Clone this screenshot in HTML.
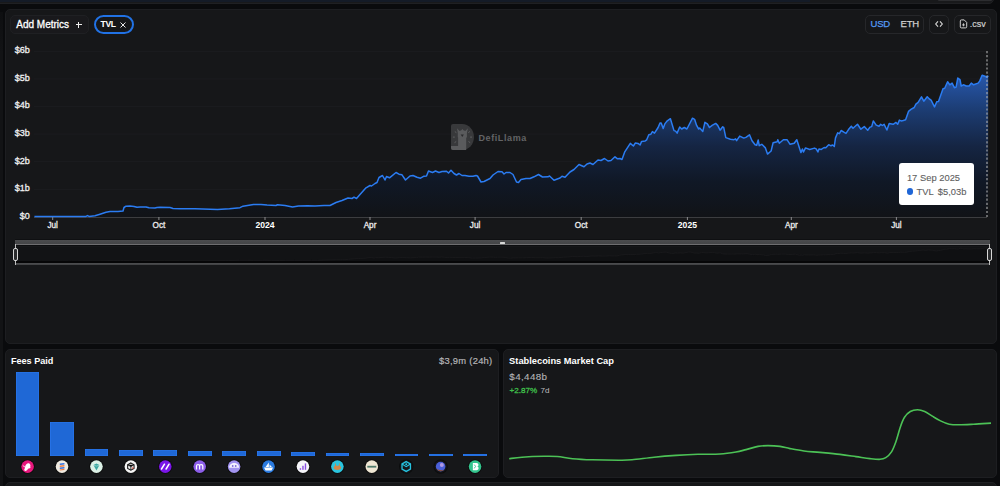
<!DOCTYPE html>
<html><head><meta charset="utf-8"><style>
*{box-sizing:border-box;margin:0;padding:0}
html,body{width:1000px;height:486px;overflow:hidden;background:#0a0b0d;font-family:"Liberation Sans",sans-serif;color:#fff}
.abs{position:absolute}
.card{position:absolute;background:#161719;border:1px solid #1d1e21;border-radius:5px}
.btn{position:absolute;border:1px solid #26272a;border-radius:5px;background:#161719}
.yl{position:absolute;left:0;width:29.8px;text-align:right;font-size:9px;line-height:12px;color:#f0f0f0;-webkit-text-stroke:0.3px #f0f0f0}
.xl{position:absolute;top:219.6px;width:40px;text-align:center;font-size:8.2px;line-height:12px;color:#ececec;-webkit-text-stroke:0.3px #ececec}
.xl.b{font-weight:700;color:#fff;-webkit-text-stroke:0;font-size:8.6px;top:219.0px}
.bar{position:absolute;width:23.8px;background:#1f68d6;box-shadow:inset 0 0 0 0.6px #2a78ee}
.ic{position:absolute;top:460.5px;width:12.6px;height:12.6px;border-radius:50%}
</style></head><body>
<div class="abs" style="left:-5px;top:-10px;width:999px;height:14px;background:#18191b;border:1px solid #1f2023;border-radius:5px"></div>
<div class="abs" style="left:0;top:0;width:810px;height:1.5px;background:#141b27"></div>
<div class="abs" style="left:938px;top:0;width:54px;height:1.2px;background:#2c2d30;border-radius:0 0 2px 2px"></div>
<div class="abs" style="left:0;top:12px;width:3.3px;height:480px;background:linear-gradient(#0e0f11,#121315 40px)"></div>
<div class="abs" style="left:5px;top:481.8px;width:992px;height:20px;background:#161719;border:1px solid #1f2023;border-radius:5px"></div>
<div class="card" style="left:5px;top:9px;width:992px;height:335px"></div>
<div class="abs" style="left:10.2px;top:14.8px;width:78.8px;height:19.1px;background:#19191c;border:1px solid #1f2023;border-radius:5px"></div>
<div class="abs" style="left:16.3px;top:17.5px;font-size:10px;line-height:14px;color:#fff;-webkit-text-stroke:0.3px #fff">Add Metrics</div>
<div class="abs" style="left:75.6px;top:24.2px;width:6.6px;height:1.1px;background:#eee"></div><div class="abs" style="left:78.35px;top:21.5px;width:1.1px;height:6.6px;background:#eee"></div>
<div class="abs" style="left:94px;top:15px;width:40px;height:18.5px;border:2px solid #2172e5;border-radius:10px"></div>
<div class="abs" style="left:100.6px;top:18.5px;font-size:8.6px;font-weight:700;line-height:11px;color:#fff;letter-spacing:-0.4px">TVL</div>
<svg class="abs" style="left:119.6px;top:21.8px" width="6" height="6"><path d="M0.5,0.5 L5.5,5.5 M5.5,0.5 L0.5,5.5" stroke="#e6e6e6" stroke-width="1"/></svg>
<div class="btn" style="left:865px;top:14.5px;width:59px;height:19px"></div>
<div class="abs" style="left:870.5px;top:18.3px;font-size:9.5px;line-height:12px;color:#559af4;-webkit-text-stroke:0.25px #559af4;letter-spacing:-0.2px">USD</div>
<div class="abs" style="left:900.5px;top:18.3px;font-size:9.5px;line-height:12px;color:#d0d0d0;-webkit-text-stroke:0.25px #d0d0d0;letter-spacing:-0.2px">ETH</div>
<div class="btn" style="left:929px;top:14.5px;width:20px;height:19px"></div>
<svg class="abs" style="left:933px;top:19px" width="12" height="10"><path d="M5,2.3 L2.7,5 L5,7.7 M7,2.3 L9.3,5 L7,7.7" fill="none" stroke="#d8d8d8" stroke-width="1.1"/></svg>
<div class="btn" style="left:954px;top:14.5px;width:37px;height:19px"></div>
<svg class="abs" style="left:959px;top:19px" width="10" height="10"><path d="M1.3,2 Q1.3,0.9 2.4,0.9 L5.2,0.9 L7.7,3.4 L7.7,7.8 Q7.7,8.9 6.6,8.9 L2.4,8.9 Q1.3,8.9 1.3,7.8 Z" fill="none" stroke="#cfcfcf" stroke-width="1"/><path d="M4.5,4.3 L4.5,7.3 M3.1,5.9 L5.9,5.9" stroke="#cfcfcf" stroke-width="0.9"/></svg>
<div class="abs" style="left:969.8px;top:18.4px;font-size:9px;line-height:12px;color:#d0d0d0;-webkit-text-stroke:0.2px #d0d0d0">.csv</div>
<div class="yl" style="top:44.2px">$6b</div><div class="yl" style="top:71.8px">$5b</div><div class="yl" style="top:99.4px">$4b</div><div class="yl" style="top:127.0px">$3b</div><div class="yl" style="top:154.6px">$2b</div><div class="yl" style="top:182.2px">$1b</div><div class="yl" style="top:209.8px">$0</div>
<div class="xl" style="left:32.7px">Jul</div><div class="xl" style="left:138.9px">Oct</div><div class="xl b" style="left:245.0px">2024</div><div class="xl" style="left:350.0px">Apr</div><div class="xl" style="left:455.1px">Jul</div><div class="xl" style="left:561.2px">Oct</div><div class="xl b" style="left:667.4px">2025</div><div class="xl" style="left:771.3px">Apr</div><div class="xl" style="left:876.4px">Jul</div>

<div class="abs" style="left:15.4px;top:238.9px;width:974.6px;height:1px;background:#0f1012"></div>
<div class="abs" style="left:15.4px;top:239.9px;width:974.6px;height:3.8px;background:linear-gradient(#4b4c4e,#444547)"></div>
<div class="abs" style="left:15.4px;top:243.7px;width:974.6px;height:1.6px;background:#6e6e70"></div>
<div class="abs" style="left:15.4px;top:245.3px;width:974.6px;height:1.2px;background:#0c0d0f"></div>
<div class="abs" style="left:15.4px;top:246.5px;width:974.6px;height:15px;background:#121315"></div>
<svg class="abs" style="left:0;top:0" width="1000" height="486"><path d="M15.4,261.5 L15.4,261.4 L41.6,261.4 L62.1,261.4 L68.2,261.4 L69.7,261.4 L71.3,261.4 L77.4,261.4 L82.5,261.2 L88.7,261.0 L92.7,261.0 L100.9,261.0 L106.0,260.9 L107.1,260.6 L109.1,260.5 L113.2,260.4 L117.3,260.5 L120.4,260.6 L123.4,260.5 L129.6,260.5 L132.6,260.6 L138.8,260.6 L140.8,260.6 L143.9,260.6 L154.1,260.6 L157.2,260.7 L164.4,260.7 L179.7,260.7 L202.7,260.8 L215.0,260.7 L225.7,260.6 L228.8,260.5 L239.6,260.3 L247.2,260.3 L253.4,260.4 L262.6,260.4 L264.1,260.3 L271.8,260.4 L279.5,260.5 L285.6,260.4 L294.8,260.4 L302.5,260.4 L311.7,260.4 L317.8,260.4 L324.0,260.1 L330.1,259.9 L336.2,259.7 L340.3,259.7 L342.4,259.6 L344.9,259.7 L348.5,259.3 L354.7,258.7 L358.8,258.5 L360.3,258.5 L363.9,258.3 L365.9,258.2 L368.0,257.7 L371.5,257.5 L374.1,258.0 L375.6,257.6 L378.7,257.7 L385.4,257.2 L388.4,257.4 L391.5,257.5 L395.1,258.0 L399.7,257.6 L402.7,257.5 L406.8,257.7 L410.4,257.8 L414.0,257.6 L416.6,257.6 L418.6,257.1 L422.7,257.2 L425.8,257.1 L429.3,257.2 L432.4,257.1 L437.0,257.1 L439.1,257.3 L441.6,257.0 L444.7,257.3 L447.2,257.5 L449.8,257.3 L452.9,257.5 L455.9,257.5 L460.0,257.6 L464.1,257.6 L467.2,257.5 L468.7,257.6 L472.3,258.1 L475.4,258.1 L481.5,257.8 L484.6,257.5 L489.7,257.1 L493.8,257.2 L495.8,257.4 L497.9,257.2 L502.0,257.2 L505.1,257.4 L508.6,258.1 L510.7,258.2 L513.2,257.9 L518.4,257.8 L522.4,257.8 L526.5,257.7 L531.1,257.4 L535.2,257.7 L540.9,257.7 L542.4,257.6 L547.0,258.0 L553.1,257.8 L555.2,257.6 L558.3,257.7 L563.4,257.2 L567.5,257.0 L572.6,256.5 L577.7,256.7 L580.8,256.4 L583.8,256.3 L586.9,256.5 L592.0,256.0 L595.1,256.1 L598.7,255.9 L602.2,256.1 L605.3,256.1 L609.4,255.7 L612.0,255.9 L614.5,255.9 L616.6,256.0 L619.2,255.3 L621.9,254.9 L625.1,254.5 L628.2,254.7 L630.3,254.4 L632.9,254.5 L635.1,254.6 L636.6,254.3 L640.3,254.2 L641.8,254.1 L644.0,253.6 L646.1,253.6 L647.7,253.3 L649.8,253.5 L653.5,252.9 L655.6,252.5 L656.7,252.5 L658.7,253.0 L660.4,252.6 L662.9,252.3 L666.1,252.1 L669.8,253.2 L671.4,253.3 L672.9,253.5 L675.6,252.9 L677.6,253.1 L680.3,252.9 L683.0,253.1 L688.7,252.0 L690.8,252.1 L692.9,252.7 L695.0,253.1 L696.1,253.0 L699.2,253.3 L701.4,252.4 L703.9,252.6 L706.1,252.9 L708.8,252.7 L712.4,252.5 L714.5,252.7 L716.9,253.2 L719.6,252.9 L720.6,252.9 L722.8,253.9 L727.5,254.1 L731.2,254.1 L732.8,254.0 L733.8,254.2 L737.0,253.8 L741.2,253.9 L743.3,253.9 L747.0,253.6 L749.6,254.2 L752.7,254.6 L754.4,254.6 L755.9,254.1 L756.9,254.7 L759.6,254.5 L763.3,254.9 L765.4,255.5 L769.1,255.2 L771.2,254.4 L775.4,254.3 L776.0,254.1 L777.5,254.4 L781.7,254.1 L785.4,254.1 L788.6,254.5 L792.7,254.4 L795.4,254.1 L799.6,255.3 L801.1,255.0 L802.3,255.3 L804.3,254.9 L808.6,255.0 L813.5,254.9 L815.3,255.0 L817.0,255.3 L818.1,255.0 L820.5,255.0 L823.3,254.8 L825.1,254.9 L828.0,254.6 L830.3,254.7 L832.0,254.6 L833.8,254.7 L835.0,253.9 L837.3,253.4 L839.0,253.5 L840.7,253.2 L843.6,253.4 L845.7,253.5 L848.3,253.1 L851.2,252.8 L852.9,253.0 L857.5,252.6 L861.0,253.1 L864.5,252.8 L867.9,253.2 L870.3,252.9 L872.0,252.8 L873.7,252.3 L876.6,252.7 L879.5,252.8 L881.2,252.6 L883.0,252.7 L884.7,252.6 L887.6,253.2 L889.9,252.5 L893.9,252.6 L896.9,252.4 L898.6,252.6 L900.4,252.2 L902.1,252.3 L904.4,252.3 L906.7,252.2 L909.7,251.4 L912.6,251.2 L915.5,251.0 L917.3,250.7 L919.5,250.5 L923.0,250.0 L925.3,250.4 L928.8,250.0 L931.1,250.2 L932.8,250.3 L936.3,251.0 L938.6,250.5 L940.4,250.4 L945.0,249.2 L946.7,249.2 L949.7,248.6 L951.9,248.8 L954.3,248.7 L956.6,249.1 L958.4,249.1 L960.1,248.2 L962.4,248.4 L963.6,249.0 L965.9,248.8 L968.8,249.0 L971.7,249.0 L973.9,248.7 L976.3,248.8 L980.9,248.7 L982.6,248.5 L985.0,247.9 L987.9,248.0 L990.0,248.1 L991.2,248.0 L990,261.5 Z" fill="#0f1012" stroke="#1a1b1d" stroke-width="0.8"/></svg>
<div class="abs" style="left:15.4px;top:261.2px;width:974.6px;height:1.6px;background:#060607"></div>
<div class="abs" style="left:15.4px;top:262.8px;width:974.6px;height:2.2px;background:linear-gradient(#4e4f51,#3e3f41)"></div>
<div class="abs" style="left:499.7px;top:241.5px;width:5.3px;height:2px;background:#d8d8d8;border-radius:0.5px"></div>
<div class="abs" style="left:14.9px;top:244px;width:1px;height:21px;background:#bdbdbd"></div>
<div class="abs" style="left:13.2px;top:248px;width:4.8px;height:13px;border:1px solid #d8d8d8;border-radius:2px;background:#2a2b2d"></div>
<div class="abs" style="left:988.8px;top:244px;width:1px;height:21px;background:#bdbdbd"></div>
<div class="abs" style="left:986.9px;top:248px;width:4.8px;height:13px;border:1px solid #d8d8d8;border-radius:2px;background:#2a2b2d"></div>
<div class="card" style="left:5px;top:349px;width:493.5px;height:128.8px"></div>
<div class="card" style="left:503px;top:349px;width:493.5px;height:128.8px"></div>
<div class="abs" style="left:10.9px;top:355.4px;font-size:9.1px;font-weight:700;line-height:12px;color:#fff">Fees Paid</div>
<div class="abs" style="left:438.9px;top:355.4px;font-size:9.4px;line-height:12px;color:#b4b4b6;-webkit-text-stroke:0.2px #b4b4b6;letter-spacing:0.28px">$3,9m (24h)</div>
<div class="abs" style="left:509.1px;top:355.4px;font-size:9.3px;font-weight:700;line-height:12px;color:#fff">Stablecoins Market Cap</div>
<div class="abs" style="left:509.3px;top:370.4px;font-size:9.8px;line-height:13px;color:#b4b4b6;-webkit-text-stroke:0.12px #b4b4b6;letter-spacing:0.38px">$4,448b</div>
<div class="abs" style="left:509.5px;top:384.5px;font-size:8.1px;line-height:11px;color:#3fbf4a;-webkit-text-stroke:0.3px #3fbf4a">+2.87%</div>
<div class="abs" style="left:540.4px;top:384.5px;font-size:8.1px;line-height:11px;color:#b8b8ba;-webkit-text-stroke:0.05px #b8b8ba">7d</div>
<div class="bar" style="left:15.60px;top:372.3px;height:83.40px"></div><div class="bar" style="left:50.05px;top:422px;height:33.70px"></div><div class="bar" style="left:84.50px;top:449px;height:6.70px"></div><div class="bar" style="left:118.95px;top:449.6px;height:6.10px"></div><div class="bar" style="left:153.40px;top:450.3px;height:5.40px"></div><div class="bar" style="left:187.85px;top:450.5px;height:5.20px"></div><div class="bar" style="left:222.30px;top:451px;height:4.70px"></div><div class="bar" style="left:256.75px;top:451.25px;height:4.45px"></div><div class="bar" style="left:291.20px;top:451.75px;height:3.95px"></div><div class="bar" style="left:325.65px;top:452.75px;height:2.95px"></div><div class="bar" style="left:360.10px;top:452.75px;height:2.95px"></div><div class="bar" style="left:394.55px;top:453.75px;height:1.95px"></div><div class="bar" style="left:429.00px;top:454px;height:1.70px"></div><div class="bar" style="left:463.45px;top:454px;height:1.70px"></div>
<svg class="abs" style="left:0;top:0" width="1000" height="486"><g transform="translate(27.60,466.6)"><circle r="7.2" fill="#0a0a0b" opacity="0.85"/><circle r="6.3" fill="#e6177c"/><path d="M-3.5,3.5 C-2,1 -3,-1 -1,-2.5 C0,-3.8 2,-3.5 2.5,-2 C3.5,-1 2,0 3,1 C2,2.5 0.5,1.5 0,3 C-1,4.5 -2.5,5 -3.5,3.5 Z" fill="#fff"/><path d="M-4.8,-1 L-2.5,0.5" stroke="#fff" stroke-width="0.8"/></g><g transform="translate(62.02,466.6)"><circle r="7.2" fill="#0a0a0b" opacity="0.85"/><circle r="6.3" fill="#efeae0"/><path d="M-2.2,-3 L2.4,-3.6 L2.4,-2.2 L-2.2,-1.6 Z" fill="#2f6fe0"/><path d="M-2.2,-1 L2.4,-1.6 L2.4,-0.2 L-2.2,0.4 Z" fill="#f07d3c"/><path d="M-2.2,1 L2.4,0.4 L2.4,1.8 L-2.2,2.4 Z" fill="#2f6fe0"/><path d="M-2.2,2.8 L2.4,2.2 L2.4,3.4 L-2.2,3.8 Z" fill="#f07d3c"/></g><g transform="translate(96.44,466.6)"><circle r="7.2" fill="#0a0a0b" opacity="0.85"/><circle r="6.3" fill="#dcf1e6"/><path d="M-3,-1.5 L0,-3.2 L3,-1.5 L0,3.8 Z" fill="#3aa7a0"/><path d="M-3,-1.5 L0,-0.5 L3,-1.5" fill="none" stroke="#dcf1e6" stroke-width="0.5"/></g><g transform="translate(130.86,466.6)"><circle r="7.2" fill="#0a0a0b" opacity="0.85"/><circle r="6.3" fill="#f4f4f4"/><path d="M0,-3.6 L3.2,-1.8 L3.2,1.8 L0,3.6 L-3.2,1.8 L-3.2,-1.8 Z" fill="none" stroke="#1a1a1a" stroke-width="1.1"/><path d="M-3.2,-1.8 L0,0 L3.2,-1.8 M0,0 L0,3.6" stroke="#1a1a1a" stroke-width="0.9"/><circle cx="2" cy="1.5" r="0.8" fill="#e03a2a"/></g><g transform="translate(165.28,466.6)"><circle r="7.2" fill="#0a0a0b" opacity="0.85"/><circle r="6.3" fill="#7a15e8"/><path d="M-3.8,2.4 L-0.8,-2.4 M0.8,2.4 L3.8,-2.4" stroke="#fff" stroke-width="1.5" stroke-linecap="round"/></g><g transform="translate(199.70,466.6)"><circle r="7.2" fill="#0a0a0b" opacity="0.85"/><circle r="6.3" fill="#8c5ee8"/><path d="M-3.2,3 L-3.2,-0.5 C-3.2,-2.6 -0.1,-2.6 -0.1,-0.5 L-0.1,3 M-0.1,-0.5 C-0.1,-2.6 3.1,-2.6 3.1,-0.5 L3.1,3" fill="none" stroke="#fff" stroke-width="1.2"/></g><g transform="translate(234.12,466.6)"><circle r="7.2" fill="#0a0a0b" opacity="0.85"/><circle r="6.3" fill="#a294f0"/><path d="M-5,1.2 C-5,-5.2 5,-5.2 5,1.2 Z" fill="#f4f2ff"/><circle cx="-1.4" cy="-0.6" r="0.9" fill="#7a6ad8"/><circle cx="1.6" cy="-0.6" r="0.9" fill="#7a6ad8"/></g><g transform="translate(268.54,466.6)"><circle r="7.2" fill="#0a0a0b" opacity="0.85"/><circle r="6.3" fill="#2a7be0"/><path d="M-4.5,1 L4.5,1 L3,3.8 L-3,3.8 Z M-3,0.4 L0.3,-4 L0.3,0.4 Z M1,-2 L3.4,0.4 L1,0.4 Z" fill="#fff"/></g><g transform="translate(302.96,466.6)"><circle r="7.2" fill="#0a0a0b" opacity="0.85"/><circle r="6.3" fill="#f6f6fa"/><rect x="-3.2" y="1.6" width="1.4" height="1.6" fill="#8a4fe0"/><rect x="-0.7" y="-0.8" width="1.4" height="4" fill="#8a4fe0"/><rect x="1.8" y="-3.2" width="1.4" height="6.4" fill="#8a4fe0"/></g><g transform="translate(337.38,466.6)"><circle r="7.2" fill="#0a0a0b" opacity="0.85"/><circle r="6.3" fill="#2bc5df"/><path d="M-2,-4 L-1.2,-0.8 L1.2,-0.8 L2,-4 L2.6,-0.5 C4.5,0.5 4,3.5 0,3.5 C-4,3.5 -4.5,0.5 -2.6,-0.5 Z" fill="#d1884a"/></g><g transform="translate(371.80,466.6)"><circle r="7.2" fill="#0a0a0b" opacity="0.85"/><circle r="6.3" fill="#efe6d3"/><rect x="-4.5" y="-0.8" width="9" height="1.8" fill="#4f7a6a"/></g><g transform="translate(406.22,466.6)"><circle r="7.2" fill="#0a0a0b" opacity="0.85"/><circle r="6.3" fill="#15181c"/><path d="M0,-5 L4.2,-2.6 L4.2,2.4 L0,4.8 L-4.2,2.4 L-4.2,-2.6 Z" fill="none" stroke="#25c3e0" stroke-width="1.3"/><path d="M-4.2,-2.6 L0,0 L4.2,-2.6" fill="none" stroke="#25c3e0" stroke-width="1.1"/><circle cy="-2.4" r="1" fill="#25c3e0"/></g><g transform="translate(440.64,466.6)"><circle r="7.2" fill="#0a0a0b" opacity="0.85"/><circle r="6.3" fill="#141518"/><circle r="4.8" fill="#4a5fd8"/><circle cx="1.2" cy="-1.6" r="2" fill="#c9a8e8" opacity="0.8"/><path d="M-4.3,2 C-3,4.8 1,5.5 3.5,3.2 C1,4 -2,3.8 -4.3,2 Z" fill="#8a4a2a"/></g><g transform="translate(475.06,466.6)"><circle r="7.2" fill="#0a0a0b" opacity="0.85"/><circle r="6.3" fill="#33c48d"/><path d="M-2.2,-3.6 L1.5,-3.6 C4,-3.6 4,0 1.8,0 C4.2,0 4.2,3.6 1.5,3.6 L-2.2,3.6 Z" fill="#fff"/><path d="M-0.8,-2 L0.5,-0.2 L-0.8,1.8" fill="none" stroke="#33c48d" stroke-width="0.9"/></g></svg>
<svg width="1000" height="486" style="position:absolute;left:0;top:0">
<defs><linearGradient id="g1" x1="0" y1="0" x2="0" y2="1"><stop offset="0" stop-color="#2757ab"/><stop offset="0.25" stop-color="#1c3c72"/><stop offset="0.5" stop-color="#152543"/><stop offset="0.75" stop-color="#101826"/><stop offset="1" stop-color="#111317"/></linearGradient></defs>
<line x1="34" y1="51.3" x2="987" y2="51.3" stroke="#1a1b1e" stroke-width="1.2"/>
<line x1="34" y1="78.9" x2="987" y2="78.9" stroke="#1a1b1e" stroke-width="1.2"/>
<line x1="34" y1="106.5" x2="987" y2="106.5" stroke="#1a1b1e" stroke-width="1.2"/>
<line x1="34" y1="134.1" x2="987" y2="134.1" stroke="#1a1b1e" stroke-width="1.2"/>
<line x1="34" y1="161.7" x2="987" y2="161.7" stroke="#1a1b1e" stroke-width="1.2"/>
<line x1="34" y1="189.3" x2="987" y2="189.3" stroke="#1a1b1e" stroke-width="1.2"/>
<path d="M34.4,216.4 L60.0,216.4 L80.0,216.4 L86.0,216.4 L87.5,215.6 L89.0,216.4 L95.0,215.8 L100.0,214.2 L106.0,212.2 L110.0,211.5 L118.0,211.5 L123.0,211.0 L124.0,207.5 L126.0,206.2 L130.0,206.0 L134.0,206.5 L137.0,207.2 L140.0,207.0 L146.0,207.0 L149.0,207.8 L155.0,208.0 L157.0,207.5 L160.0,207.2 L170.0,207.5 L173.0,208.5 L180.0,208.8 L195.0,208.8 L217.5,209.5 L229.5,208.8 L240.0,207.7 L243.0,206.2 L253.5,204.4 L261.0,204.4 L267.0,205.0 L276.0,205.5 L277.5,204.7 L285.0,205.5 L292.5,207.0 L298.5,206.0 L307.5,205.8 L315.0,206.0 L324.0,205.5 L330.0,205.5 L336.0,202.5 L342.0,200.5 L348.0,198.0 L352.0,198.5 L354.0,197.2 L356.5,198.5 L360.0,194.5 L366.0,187.8 L370.0,185.5 L371.5,186.0 L375.0,183.5 L377.0,182.5 L379.0,177.5 L382.5,175.5 L385.0,180.0 L386.5,176.5 L389.5,177.8 L396.0,172.5 L399.0,174.2 L402.0,174.8 L405.5,180.0 L410.0,176.0 L413.0,175.5 L417.0,177.2 L420.5,178.2 L424.0,176.2 L426.5,176.0 L428.5,171.0 L432.5,172.5 L435.5,171.0 L439.0,172.5 L442.0,171.5 L446.5,171.2 L448.5,173.0 L451.0,170.2 L454.0,173.5 L456.5,175.0 L459.0,173.5 L462.0,175.5 L465.0,175.5 L469.0,176.3 L473.0,176.2 L476.0,175.5 L477.5,176.0 L481.0,182.0 L484.0,181.5 L490.0,178.5 L493.0,175.0 L498.0,171.5 L502.0,171.8 L504.0,174.0 L506.0,172.5 L510.0,172.5 L513.0,174.5 L516.5,182.0 L518.5,182.5 L521.0,179.5 L526.0,178.5 L530.0,178.5 L534.0,176.8 L538.5,174.5 L542.5,177.0 L548.0,176.8 L549.5,176.0 L554.0,180.2 L560.0,178.0 L562.0,176.2 L565.0,177.2 L570.0,172.0 L574.0,169.5 L579.0,164.5 L584.0,166.8 L587.0,164.0 L590.0,163.0 L593.0,164.5 L598.0,160.0 L601.0,160.5 L604.5,158.5 L608.0,161.0 L611.0,160.5 L615.0,156.8 L617.5,158.8 L620.0,158.5 L622.0,159.5 L624.6,152.2 L627.2,148.1 L630.3,143.4 L633.4,146.0 L635.4,142.9 L638.0,143.4 L640.1,145.0 L641.6,141.4 L645.2,140.9 L646.7,139.8 L648.8,134.7 L650.9,134.2 L652.4,131.6 L654.5,133.1 L658.1,127.5 L660.1,122.9 L661.2,122.9 L663.2,128.5 L664.8,123.9 L667.3,120.8 L670.4,118.7 L674.0,130.6 L675.6,131.1 L677.1,133.1 L679.7,127.0 L681.7,129.0 L684.3,127.5 L686.9,129.0 L692.5,118.2 L694.6,119.3 L696.6,125.4 L698.7,129.0 L699.7,128.0 L702.8,131.4 L704.9,122.3 L707.4,123.9 L709.5,127.5 L712.1,125.4 L715.7,123.4 L717.7,125.4 L720.1,130.2 L722.7,126.8 L723.7,127.3 L725.8,137.6 L730.4,139.2 L734.0,139.7 L735.6,138.9 L736.6,140.7 L739.7,136.1 L743.8,138.1 L745.9,137.4 L749.5,134.8 L752.0,140.7 L755.1,144.8 L756.7,145.3 L758.2,139.9 L759.2,145.7 L761.8,144.3 L765.4,147.9 L767.5,154.1 L771.1,151.0 L773.1,142.8 L777.2,141.7 L777.8,139.7 L779.3,143.3 L783.4,139.7 L787.0,139.7 L790.1,144.3 L794.2,143.3 L796.8,139.7 L800.9,152.6 L802.4,149.0 L803.5,152.0 L805.5,147.9 L809.7,149.5 L814.5,148.1 L816.2,148.9 L817.9,152.0 L819.0,148.9 L821.3,149.4 L824.1,147.5 L825.8,147.7 L828.7,144.7 L830.9,145.8 L832.6,145.0 L834.3,146.4 L835.5,137.9 L837.7,132.8 L839.4,133.7 L841.1,130.5 L843.9,132.2 L846.0,133.4 L848.5,129.6 L851.3,126.2 L853.0,128.3 L857.5,124.3 L860.9,129.2 L864.3,126.6 L867.7,130.3 L870.0,127.1 L871.7,126.6 L873.3,120.9 L876.2,125.1 L879.0,126.2 L880.7,124.3 L882.4,125.5 L884.1,124.3 L886.9,130.0 L889.2,123.5 L893.1,124.3 L896.0,122.4 L897.7,124.3 L899.4,120.1 L901.1,120.9 L903.3,120.4 L905.6,119.8 L908.5,111.4 L911.3,109.2 L914.2,107.5 L915.9,104.1 L918.1,102.4 L921.5,96.9 L923.8,101.2 L927.2,96.7 L929.4,99.0 L931.1,100.1 L934.5,106.9 L936.8,101.8 L938.5,101.5 L943.0,88.8 L944.7,88.2 L947.6,81.8 L949.8,84.8 L952.1,83.1 L954.4,87.7 L956.1,87.1 L957.8,78.0 L960.0,79.7 L961.2,86.0 L963.4,84.8 L966.3,86.0 L969.1,86.0 L971.3,83.1 L973.6,84.8 L978.1,83.1 L979.8,80.9 L982.1,75.2 L984.9,76.3 L987.0,77.2 L988.2,75.8 L988.2,217 L34.4,217 Z" fill="url(#g1)"/>
<line x1="34" y1="217.5" x2="987" y2="217.5" stroke="#3c3d40" stroke-width="1"/>
<line x1="52.7" y1="217" x2="52.7" y2="220" stroke="#8a8a8c" stroke-width="1"/>
<line x1="158.9" y1="217" x2="158.9" y2="220" stroke="#8a8a8c" stroke-width="1"/>
<line x1="265.0" y1="217" x2="265.0" y2="220" stroke="#8a8a8c" stroke-width="1"/>
<line x1="370.0" y1="217" x2="370.0" y2="220" stroke="#8a8a8c" stroke-width="1"/>
<line x1="475.1" y1="217" x2="475.1" y2="220" stroke="#8a8a8c" stroke-width="1"/>
<line x1="581.2" y1="217" x2="581.2" y2="220" stroke="#8a8a8c" stroke-width="1"/>
<line x1="687.4" y1="217" x2="687.4" y2="220" stroke="#8a8a8c" stroke-width="1"/>
<line x1="791.3" y1="217" x2="791.3" y2="220" stroke="#8a8a8c" stroke-width="1"/>
<line x1="896.4" y1="217" x2="896.4" y2="220" stroke="#8a8a8c" stroke-width="1"/>
<path d="M34.4,216.4 L60.0,216.4 L80.0,216.4 L86.0,216.4 L87.5,215.6 L89.0,216.4 L95.0,215.8 L100.0,214.2 L106.0,212.2 L110.0,211.5 L118.0,211.5 L123.0,211.0 L124.0,207.5 L126.0,206.2 L130.0,206.0 L134.0,206.5 L137.0,207.2 L140.0,207.0 L146.0,207.0 L149.0,207.8 L155.0,208.0 L157.0,207.5 L160.0,207.2 L170.0,207.5 L173.0,208.5 L180.0,208.8 L195.0,208.8 L217.5,209.5 L229.5,208.8 L240.0,207.7 L243.0,206.2 L253.5,204.4 L261.0,204.4 L267.0,205.0 L276.0,205.5 L277.5,204.7 L285.0,205.5 L292.5,207.0 L298.5,206.0 L307.5,205.8 L315.0,206.0 L324.0,205.5 L330.0,205.5 L336.0,202.5 L342.0,200.5 L348.0,198.0 L352.0,198.5 L354.0,197.2 L356.5,198.5 L360.0,194.5 L366.0,187.8 L370.0,185.5 L371.5,186.0 L375.0,183.5 L377.0,182.5 L379.0,177.5 L382.5,175.5 L385.0,180.0 L386.5,176.5 L389.5,177.8 L396.0,172.5 L399.0,174.2 L402.0,174.8 L405.5,180.0 L410.0,176.0 L413.0,175.5 L417.0,177.2 L420.5,178.2 L424.0,176.2 L426.5,176.0 L428.5,171.0 L432.5,172.5 L435.5,171.0 L439.0,172.5 L442.0,171.5 L446.5,171.2 L448.5,173.0 L451.0,170.2 L454.0,173.5 L456.5,175.0 L459.0,173.5 L462.0,175.5 L465.0,175.5 L469.0,176.3 L473.0,176.2 L476.0,175.5 L477.5,176.0 L481.0,182.0 L484.0,181.5 L490.0,178.5 L493.0,175.0 L498.0,171.5 L502.0,171.8 L504.0,174.0 L506.0,172.5 L510.0,172.5 L513.0,174.5 L516.5,182.0 L518.5,182.5 L521.0,179.5 L526.0,178.5 L530.0,178.5 L534.0,176.8 L538.5,174.5 L542.5,177.0 L548.0,176.8 L549.5,176.0 L554.0,180.2 L560.0,178.0 L562.0,176.2 L565.0,177.2 L570.0,172.0 L574.0,169.5 L579.0,164.5 L584.0,166.8 L587.0,164.0 L590.0,163.0 L593.0,164.5 L598.0,160.0 L601.0,160.5 L604.5,158.5 L608.0,161.0 L611.0,160.5 L615.0,156.8 L617.5,158.8 L620.0,158.5 L622.0,159.5 L624.6,152.2 L627.2,148.1 L630.3,143.4 L633.4,146.0 L635.4,142.9 L638.0,143.4 L640.1,145.0 L641.6,141.4 L645.2,140.9 L646.7,139.8 L648.8,134.7 L650.9,134.2 L652.4,131.6 L654.5,133.1 L658.1,127.5 L660.1,122.9 L661.2,122.9 L663.2,128.5 L664.8,123.9 L667.3,120.8 L670.4,118.7 L674.0,130.6 L675.6,131.1 L677.1,133.1 L679.7,127.0 L681.7,129.0 L684.3,127.5 L686.9,129.0 L692.5,118.2 L694.6,119.3 L696.6,125.4 L698.7,129.0 L699.7,128.0 L702.8,131.4 L704.9,122.3 L707.4,123.9 L709.5,127.5 L712.1,125.4 L715.7,123.4 L717.7,125.4 L720.1,130.2 L722.7,126.8 L723.7,127.3 L725.8,137.6 L730.4,139.2 L734.0,139.7 L735.6,138.9 L736.6,140.7 L739.7,136.1 L743.8,138.1 L745.9,137.4 L749.5,134.8 L752.0,140.7 L755.1,144.8 L756.7,145.3 L758.2,139.9 L759.2,145.7 L761.8,144.3 L765.4,147.9 L767.5,154.1 L771.1,151.0 L773.1,142.8 L777.2,141.7 L777.8,139.7 L779.3,143.3 L783.4,139.7 L787.0,139.7 L790.1,144.3 L794.2,143.3 L796.8,139.7 L800.9,152.6 L802.4,149.0 L803.5,152.0 L805.5,147.9 L809.7,149.5 L814.5,148.1 L816.2,148.9 L817.9,152.0 L819.0,148.9 L821.3,149.4 L824.1,147.5 L825.8,147.7 L828.7,144.7 L830.9,145.8 L832.6,145.0 L834.3,146.4 L835.5,137.9 L837.7,132.8 L839.4,133.7 L841.1,130.5 L843.9,132.2 L846.0,133.4 L848.5,129.6 L851.3,126.2 L853.0,128.3 L857.5,124.3 L860.9,129.2 L864.3,126.6 L867.7,130.3 L870.0,127.1 L871.7,126.6 L873.3,120.9 L876.2,125.1 L879.0,126.2 L880.7,124.3 L882.4,125.5 L884.1,124.3 L886.9,130.0 L889.2,123.5 L893.1,124.3 L896.0,122.4 L897.7,124.3 L899.4,120.1 L901.1,120.9 L903.3,120.4 L905.6,119.8 L908.5,111.4 L911.3,109.2 L914.2,107.5 L915.9,104.1 L918.1,102.4 L921.5,96.9 L923.8,101.2 L927.2,96.7 L929.4,99.0 L931.1,100.1 L934.5,106.9 L936.8,101.8 L938.5,101.5 L943.0,88.8 L944.7,88.2 L947.6,81.8 L949.8,84.8 L952.1,83.1 L954.4,87.7 L956.1,87.1 L957.8,78.0 L960.0,79.7 L961.2,86.0 L963.4,84.8 L966.3,86.0 L969.1,86.0 L971.3,83.1 L973.6,84.8 L978.1,83.1 L979.8,80.9 L982.1,75.2 L984.9,76.3 L987.0,77.2 L988.2,75.8" fill="none" stroke="#2b7cf2" stroke-width="1.5" stroke-linejoin="round"/>
<line x1="987" y1="51" x2="987" y2="217" stroke="#b0b0b0" stroke-width="1.1" stroke-dasharray="2.2,1.9"/>
<path d="M509.20,458.70 C511.33,458.45 516.20,457.60 522.00,457.20 C527.80,456.80 538.13,456.42 544.00,456.30 C549.87,456.18 552.43,456.10 557.20,456.50 C561.97,456.90 566.73,458.15 572.60,458.70 C578.47,459.25 584.70,459.55 592.40,459.80 C600.10,460.05 612.20,460.20 618.80,460.20 C625.40,460.20 626.13,460.30 632.00,459.80 C637.87,459.30 646.67,457.93 654.00,457.20 C661.33,456.47 668.67,455.88 676.00,455.40 C683.33,454.92 690.67,454.53 698.00,454.30 C705.33,454.07 713.67,454.38 720.00,454.00 C726.33,453.62 731.67,452.73 736.00,452.00 C740.33,451.27 742.33,450.53 746.00,449.60 C749.67,448.67 754.33,447.07 758.00,446.40 C761.67,445.73 764.33,445.60 768.00,445.60 C771.67,445.60 776.33,445.90 780.00,446.40 C783.67,446.90 786.00,447.83 790.00,448.60 C794.00,449.37 799.00,450.37 804.00,451.00 C809.00,451.63 814.00,451.83 820.00,452.40 C826.00,452.97 834.00,453.70 840.00,454.40 C846.00,455.10 851.00,455.90 856.00,456.60 C861.00,457.30 866.00,458.15 870.00,458.60 C874.00,459.05 877.37,459.47 880.00,459.30 C882.63,459.13 883.88,458.83 885.80,457.60 C887.72,456.37 889.82,454.53 891.50,451.90 C893.18,449.27 894.45,445.88 895.90,441.80 C897.35,437.72 898.77,431.48 900.20,427.40 C901.63,423.32 902.82,419.95 904.50,417.30 C906.18,414.65 908.13,412.75 910.30,411.50 C912.47,410.25 915.10,409.80 917.50,409.80 C919.90,409.80 922.30,410.48 924.70,411.50 C927.10,412.52 929.27,414.33 931.90,415.90 C934.53,417.47 937.62,419.52 940.50,420.90 C943.38,422.28 946.07,423.55 949.20,424.20 C952.33,424.85 955.22,424.80 959.30,424.80 C963.38,424.80 968.42,424.48 973.70,424.20 C978.98,423.92 988.12,423.28 991.00,423.10" fill="none" stroke="#4cc256" stroke-width="1.6"/>
</svg>
<div class="abs" style="left:478.4px;top:131.5px;font-size:9px;font-weight:700;line-height:13px;color:#636466;letter-spacing:0.62px">DefiLlama</div>
<svg class="abs" style="left:450px;top:123px" width="26" height="28"><path d="M1,3 Q1,1 3,1 L12,1 C19,1 24,7 24,14 C24,21 19,27 12,27 L3,27 Q1,27 1,25 Z" fill="#38393b"/>
<path d="M7,5.2 L9.6,8 L11.3,7.2 L12.4,6 L13.5,7.2 L15.3,8 L17.9,5.2 L16.9,10 L16.9,14 L16.2,15 L16.2,27 L3,27 Q1,27 1,25 L1,23 L8.1,23 L8.1,15 L7.8,14 L7.8,10 Z" fill="#5a5b5d"/>
<path d="M10.7,11.6 L13.9,11.6 L12.3,14 Z" fill="#2a2b2d"/>
<path d="M4.8,8.5 L6.4,9.7 M2.9,14.1 L4.8,14.1 M4.5,19.7 L6.2,18.5 M19.9,8.5 L18.3,9.7 M22,14.1 L20.1,14.1 M20.2,19.7 L18.5,18.5" stroke="#5e5f61" stroke-width="1"/></svg>
<div class="abs" style="left:899.4px;top:163px;width:74.6px;height:42px;background:#fff;border-radius:3px"></div>
<div class="abs" style="left:906.9px;top:172.1px;font-size:9.4px;line-height:12px;color:#5e5e5e;-webkit-text-stroke:0.1px #5e5e5e">17 Sep 2025</div>
<div class="abs" style="left:906.5px;top:188.4px;width:6.6px;height:6.6px;border-radius:50%;background:#1f66d6"></div>
<div class="abs" style="left:916.5px;top:186.1px;font-size:9.4px;line-height:12px;color:#5e5e5e;-webkit-text-stroke:0.1px #5e5e5e">TVL</div>
<div class="abs" style="left:937.8px;top:186.1px;font-size:9.4px;line-height:12px;color:#5e5e5e;-webkit-text-stroke:0.1px #5e5e5e">$5,03b</div>
</body></html>
